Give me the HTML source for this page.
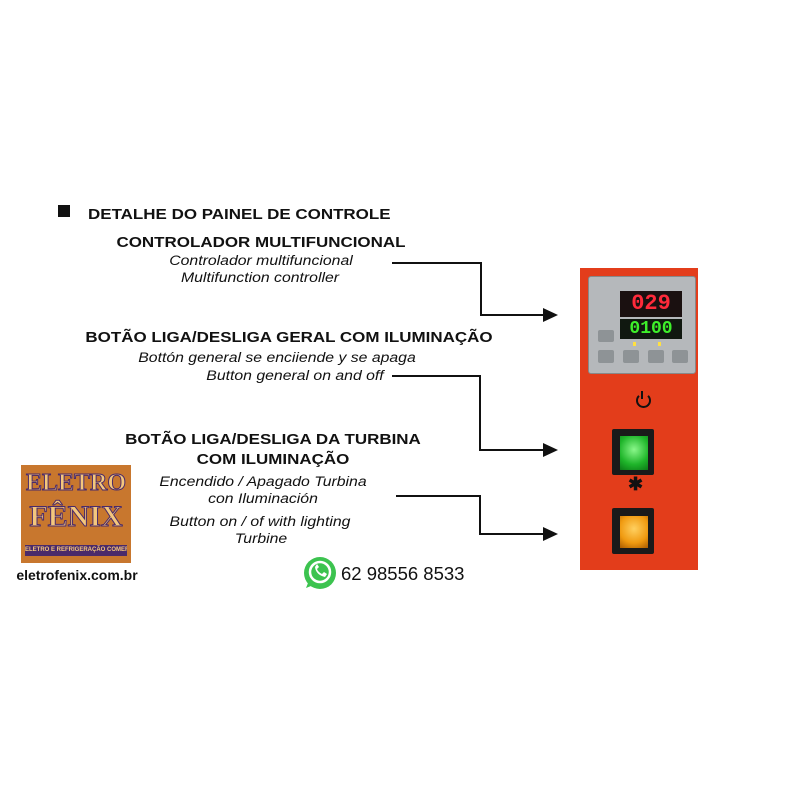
<!DOCTYPE html>
<html><head><meta charset="utf-8"><style>
body{margin:0;width:800px;height:800px;background:#fff;position:relative;overflow:hidden;font-family:"Liberation Sans",Arial,sans-serif;color:#111}
.t{position:absolute;white-space:nowrap;text-align:center}
.c{width:600px;transform:scaleX(1.17);transform-origin:50% 50%}
.b{font-weight:bold;font-size:14.5px}
.i{font-style:italic;font-size:13.5px}
.abs{position:absolute}
</style></head><body>
<div class="abs" style="left:58px;top:205px;width:12px;height:12px;background:#111"></div>
<div class="t b" style="left:88px;top:207px;transform:scaleX(1.17);transform-origin:0 50%">DETALHE DO PAINEL DE CONTROLE</div>
<div class="t b c" style="left:-39px;top:235px">CONTROLADOR MULTIFUNCIONAL</div>
<div class="t i c" style="left:-39px;top:253px">Controlador multifuncional</div>
<div class="t i c" style="left:-40px;top:270px">Multifunction controller</div>
<div class="t b c" style="left:-11px;top:330px">BOTÃO LIGA/DESLIGA GERAL COM ILUMINAÇÃO</div>
<div class="t i c" style="left:-23px;top:350px">Bottón general se enciiende y se apaga</div>
<div class="t i c" style="left:-5px;top:368px">Button general on and off</div>
<div class="t b c" style="left:-27px;top:432px">BOTÃO LIGA/DESLIGA DA TURBINA</div>
<div class="t b c" style="left:-27px;top:452px">COM ILUMINAÇÃO</div>
<div class="t i c" style="left:-37px;top:474px">Encendido / Apagado Turbina</div>
<div class="t i c" style="left:-37px;top:491px">con Iluminación</div>
<div class="t i c" style="left:-40px;top:514px">Button on / of with lighting</div>
<div class="t i c" style="left:-39px;top:531px">Turbine</div>

<svg class="abs" style="left:0;top:0" width="800" height="800">
<g fill="none" stroke="#111" stroke-width="2">
<polyline points="392,263 481,263 481,315 545,315"/>
<polyline points="392,376 480,376 480,450 545,450"/>
<polyline points="396,496 480,496 480,534 545,534"/>
</g>
<g fill="#111">
<polygon points="543,308 558,315 543,322"/>
<polygon points="543,443 558,450 543,457"/>
<polygon points="543,527 558,534 543,541"/>
</g>
<circle cx="320" cy="573" r="16" fill="#3cc34f"/>
<path d="M306,588 l4,-10 l6,6z" fill="#3cc34f"/>
<circle cx="320" cy="572" r="10" fill="none" stroke="#fff" stroke-width="2.5"/>
<path d="M315,567 q1,8 10,10 l2,-3 -3,-2 -2,2 q-4,-2 -5,-5 l2,-2 -2,-3z" fill="#fff"/>
</svg>
<div class="t" style="left:341px;top:563px;font-size:18.5px">62 98556 8533</div>

<div class="abs" style="left:21px;top:465px;width:110px;height:98px;background:#c8772e"></div>
<div class="t" style="left:21px;top:470px;width:110px;font-family:'Liberation Serif',serif;font-weight:bold;font-size:24px;color:#f4c77c;-webkit-text-stroke:1px #4a2a6a">ELETRO</div>
<div class="t" style="left:21px;top:500px;width:110px;font-family:'Liberation Serif',serif;font-weight:bold;font-size:30px;color:#f4c77c;-webkit-text-stroke:1px #4a2a6a">FÊNIX</div>
<div class="abs" style="left:25px;top:545px;width:102px;height:11px;background:#4a2a6a;color:#f4c77c;font-size:6px;font-weight:bold;text-align:center;line-height:11px;white-space:nowrap;overflow:hidden">ELETRO E REFRIGERAÇÃO COMERCIAL</div>
<div class="t" style="left:14px;top:567px;width:126px;font-size:14px;font-weight:bold">eletrofenix.com.br</div>

<div class="abs" style="left:580px;top:268px;width:118px;height:302px;background:#e33d1b"></div>
<div class="abs" style="left:588px;top:276px;width:106px;height:96px;background:#b5b8bb;border:1px solid #888;border-radius:3px"></div>
<div class="abs" style="left:620px;top:291px;width:62px;height:26px;background:#1a1010;color:#ff2a3a;font:bold 22px 'Liberation Mono',monospace;text-align:center;line-height:26px">029</div>
<div class="abs" style="left:620px;top:319px;width:62px;height:20px;background:#101810;color:#3ef02a;font:bold 18px 'Liberation Mono',monospace;text-align:center;line-height:20px">0100</div>
<div class="abs" style="left:598px;top:330px;width:16px;height:12px;background:#8e9396;border-radius:2px"></div>
<div class="abs" style="left:598px;top:350px;width:16px;height:13px;background:#8e9396;border-radius:2px"></div>
<div class="abs" style="left:623px;top:350px;width:16px;height:13px;background:#8e9396;border-radius:2px"></div>
<div class="abs" style="left:648px;top:350px;width:16px;height:13px;background:#8e9396;border-radius:2px"></div>
<div class="abs" style="left:672px;top:350px;width:16px;height:13px;background:#8e9396;border-radius:2px"></div>
<div class="abs" style="left:633px;top:342px;width:3px;height:4px;background:#ffe040"></div>
<div class="abs" style="left:658px;top:342px;width:3px;height:4px;background:#ffe040"></div>
<div class="abs" style="left:636px;top:393px;width:11px;height:11px;border:2px solid #111;border-radius:50%;border-top-color:transparent"></div>
<div class="abs" style="left:641px;top:391px;width:2px;height:8px;background:#111"></div>
<div class="abs" style="left:612px;top:429px;width:42px;height:46px;background:#1a1a1a;border-radius:2px"></div>
<div class="abs" style="left:620px;top:436px;width:28px;height:34px;background:radial-gradient(circle at 50% 40%,#8af78a,#1fb52a 60%,#0c7a16)"></div>
<div class="t" style="left:628px;top:474px;font-size:18px;font-weight:bold">✱</div>
<div class="abs" style="left:612px;top:508px;width:42px;height:46px;background:#1a1a1a;border-radius:2px"></div>
<div class="abs" style="left:620px;top:516px;width:28px;height:32px;background:radial-gradient(circle at 50% 40%,#ffd060,#f09a10 60%,#a85a00)"></div>
</body></html>
